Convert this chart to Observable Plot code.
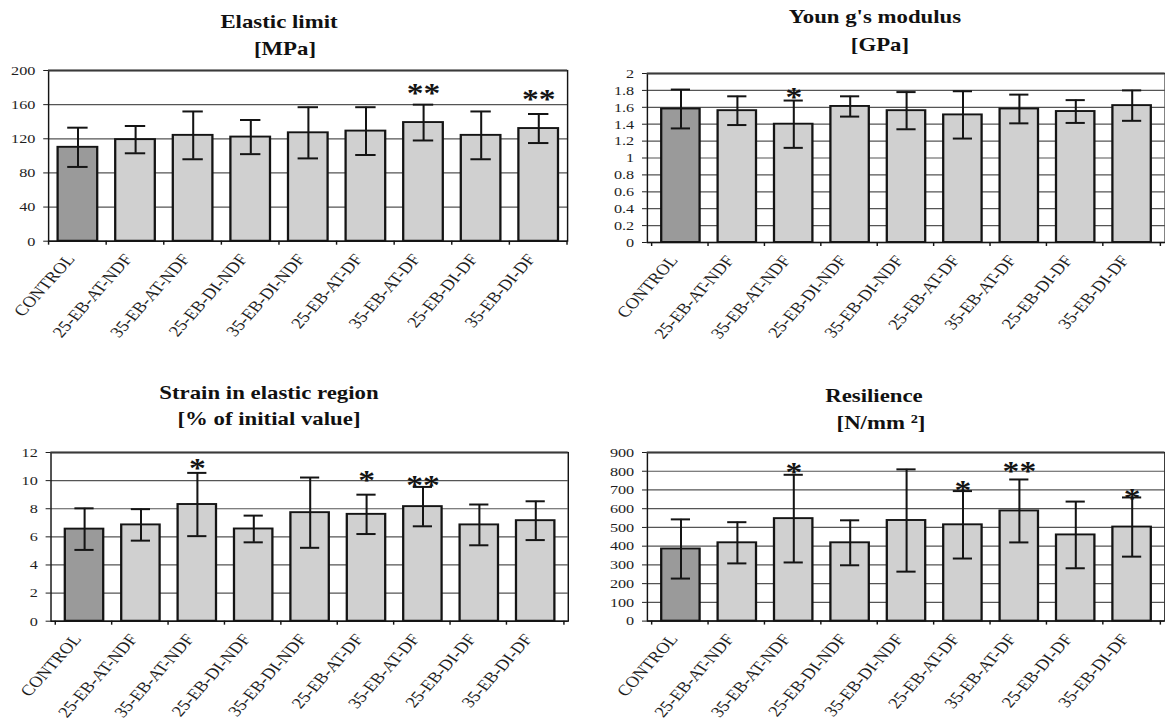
<!DOCTYPE html>
<html><head><meta charset="utf-8">
<script src="https://cdn.jsdelivr.net/npm/d3@7"></script>
<script src="https://cdn.jsdelivr.net/npm/@observablehq/plot@0.6"></script>
<style>
html,body{margin:0;padding:0;background:#fff;overflow:hidden;width:1165px;height:722px;}
#stage{position:absolute;left:0;top:0;width:970.8px;height:722px;transform:scaleX(1.2);transform-origin:0 0;font-family:"Liberation Serif";}
.t{position:absolute;width:300px;text-align:center;font-family:"Liberation Serif";font-weight:bold;font-size:19px;line-height:21px;color:#111;white-space:nowrap;}
.t sup{font-size:12px;line-height:0;vertical-align:6px;}
</style></head><body><div id="stage"></div>
<script>
// ---- data ----
const categories = ["CONTROL","25-EB-AT-NDF","35-EB-AT-NDF","25-EB-DI-NDF","35-EB-DI-NDF","25-EB-AT-DF","35-EB-AT-DF","25-EB-DI-DF","35-EB-DI-DF"];

const elasticMean = [110, 119, 124, 122, 127, 129, 139, 124, 132];
const elasticErr  = [23, 16, 28, 20, 30, 28, 21, 28, 17];
const elasticTicks = [0, 40, 80, 120, 160, 200];
const elasticStars = [
  {cat: "35-EB-AT-DF", mark: "**", level: 178},
  {cat: "35-EB-DI-DF", mark: "**", level: 171}
];

const youngMean = [1.58, 1.56, 1.40, 1.61, 1.56, 1.51, 1.58, 1.55, 1.62];
const youngErr  = [0.23, 0.17, 0.28, 0.12, 0.22, 0.28, 0.17, 0.135, 0.18];
const youngTicks = [0, 0.2, 0.4, 0.6, 0.8, 1, 1.2, 1.4, 1.6, 1.8, 2];
const youngStars = [
  {cat: "35-EB-AT-NDF", mark: "*", level: 1.77}
];

const strainMean = [6.55, 6.85, 8.3, 6.56, 7.72, 7.6, 8.15, 6.85, 7.15];
const strainErr  = [1.48, 1.12, 2.25, 0.95, 2.5, 1.4, 1.4, 1.45, 1.38];
const strainTicks = [0, 2, 4, 6, 8, 10, 12];
const strainStars = [
  {cat: "35-EB-AT-NDF", mark: "*", level: 11.15},
  {cat: "25-EB-AT-DF", mark: "*", level: 10.3},
  {cat: "35-EB-AT-DF", mark: "**", level: 10.0}
];

const resilMean = [385, 418, 547, 418, 537, 514, 588, 460, 502];
const resilErr  = [158, 110, 234, 120, 273, 180, 168, 178, 158];
const resilTicks = [0, 100, 200, 300, 400, 500, 600, 700, 800, 900];
const resilStars = [
  {cat: "35-EB-AT-NDF", mark: "*", level: 816},
  {cat: "25-EB-AT-DF", mark: "*", level: 719},
  {cat: "35-EB-AT-DF", mark: "**", level: 821},
  {cat: "35-EB-DI-DF", mark: "*", level: 680}
];

// ---- layout (screen pixels) ----
const S = 1.2; // horizontal stretch of the whole figure
const stage = document.getElementById("stage");
const FONT = "Liberation Serif";
const INK = "#141414";

const panels = [
  {title: ["Elastic limit", "[MPa]"], tx: [279, 285], tb: [28.3, 55],
   mean: elasticMean, err: elasticErr, ticks: elasticTicks, stars: elasticStars,
   frame: {left: 48.3, right: 567.3, top: 70, bottom: 240.7}},
  {title: ["Youn g's modulus", "[GPa]"], tx: [875, 880], tb: [22.7, 51],
   mean: youngMean, err: youngErr, ticks: youngTicks, stars: youngStars,
   frame: {left: 646.7, right: 1164.5, top: 72.7, bottom: 241.7}},
  {title: ["Strain in elastic region", "[% of initial value]"], tx: [269, 269], tb: [399.3, 425],
   mean: strainMean, err: strainErr, ticks: strainTicks, stars: strainStars,
   frame: {left: 50, right: 567.3, top: 452.3, bottom: 621}},
  {title: ["Resilience", "[N/mm <sup>2</sup>]"], tx: [874, 881], tb: [401.7, 429],
   mean: resilMean, err: resilErr, ticks: resilTicks, stars: resilStars,
   frame: {left: 647, right: 1164.5, top: 452, bottom: 620.6}}
];

function addTitle(html, cx, base) {
  const d = document.createElement("div");
  d.className = "t";
  d.innerHTML = html;
  d.style.left = (cx / S - 150) + "px";
  d.style.top = (base - 16.9) + "px";
  stage.appendChild(d);
}

function boundaryTicks(index, scales, values, dims) {
  const x = scales.x;
  const n = categories.length;
  const step = (dims.width - dims.marginLeft - dims.marginRight) / n;
  const bw = typeof x.bandwidth === "function" ? x.bandwidth() : step * 0.68;
  const yb = dims.height - dims.marginBottom;
  const pos = categories.map(c => x(c) + bw / 2 - step / 2);
  pos.push(x(categories[n - 1]) + bw / 2 + step / 2);
  const g = d3.create("svg:g").attr("stroke", INK).attr("stroke-width", 1.2);
  g.selectAll("line").data(pos).join("line")
    .attr("x1", d => d).attr("x2", d => d)
    .attr("y1", yb).attr("y2", yb + 4);
  return g.node();
}

panels.forEach((p, k) => {
  addTitle(p.title[0], p.tx[0], p.tb[0]);
  addTitle(p.title[1], p.tx[1], p.tb[1]);
  const data = categories.map((c, i) => ({cat: c, mean: p.mean[i], err: p.err[i]}));
  const ML = 40, MR = 1, MT = 12, MB = 110;
  const fl = p.frame.left / S, fr = p.frame.right / S;
  const width = (fr - fl) + ML + MR;
  const height = (p.frame.bottom - p.frame.top) + MT + MB;
  const ymax = p.ticks[p.ticks.length - 1];
  const fmt = d => String(+(+d).toFixed(1));
  const chart = Plot.plot({
    width, height,
    marginLeft: ML, marginRight: MR, marginTop: MT, marginBottom: MB,
    style: {fontFamily: FONT, fontSize: "13.5px", color: "#1e1e1e", background: "transparent", overflow: "visible"},
    x: {type: "band", domain: categories, paddingInner: 0.32, paddingOuter: 0.16, axis: null},
    y: {domain: [0, ymax], axis: null},
    marks: [
      Plot.ruleY(p.ticks.slice(1, -1), {stroke: "#555", strokeWidth: 1.2}),
      Plot.barY(data.filter(d => d.cat === categories[0]), {x: "cat", y: "mean", fill: "#9a9a9a", stroke: INK, strokeWidth: 1.9}),
      Plot.barY(data.filter(d => d.cat !== categories[0]), {x: "cat", y: "mean", fill: "#d0d0d0", stroke: INK, strokeWidth: 1.9}),
      Plot.ruleX(data, {x: "cat", y1: d => d.mean - d.err, y2: d => d.mean + d.err, stroke: INK, strokeWidth: 1.7}),
      Plot.tickY(data, {x: "cat", y: d => d.mean + d.err, stroke: INK, strokeWidth: 2, insetLeft: 8, insetRight: 8}),
      Plot.tickY(data, {x: "cat", y: d => d.mean - d.err, stroke: INK, strokeWidth: 2, insetLeft: 8, insetRight: 8}),
      Plot.frame({stroke: INK, strokeWidth: 1.2}),
      Plot.ruleY([ymax], {stroke: "#3a3a3a", strokeWidth: 1.8}),
      Plot.ruleY([0], {stroke: INK, strokeWidth: 1.5}),
      Plot.axisY({ticks: p.ticks, tickSize: 4, tickPadding: 7, tickFormat: fmt, fontSize: 13.5, fontFamily: FONT}),
      boundaryTicks,
      Plot.text(categories, {x: d => d, frameAnchor: "bottom", rotate: -53, textAnchor: "end", lineAnchor: "middle", dx: -6, dy: 15, fontSize: 15.5, fontFamily: FONT}),
      Plot.text(p.stars, {x: "cat", y: "level", text: "mark", fontSize: 28, fontWeight: "bold", dy: 4, fill: INK, fontFamily: FONT})
    ]
  });
  chart.style.position = "absolute";
  chart.style.left = (fl - ML) + "px";
  chart.style.top = (p.frame.top - MT) + "px";
  stage.appendChild(chart);
});
</script>
</body></html>
